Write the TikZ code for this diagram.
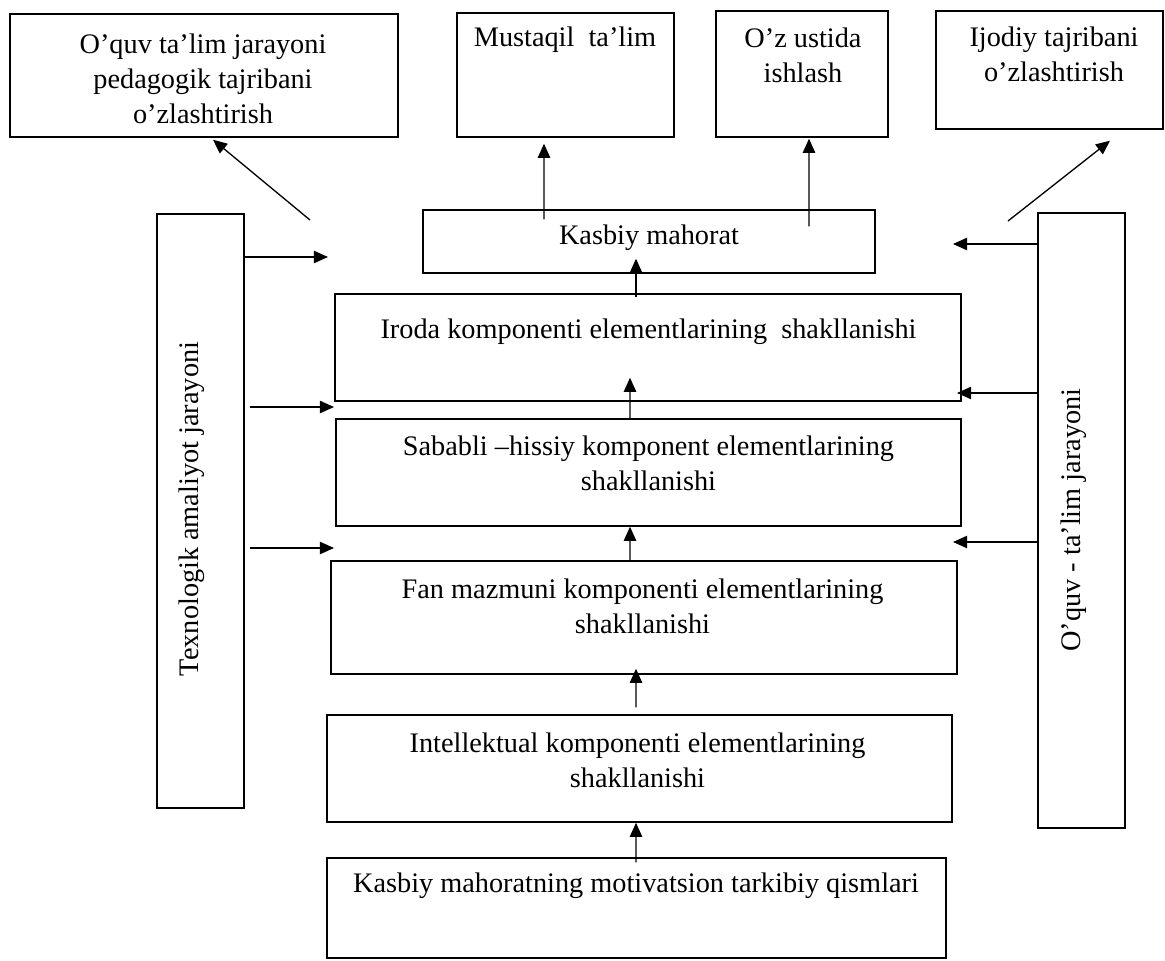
\documentclass[tikz,border=0pt]{standalone}
\usepackage{fontspec}
\setmainfont{Liberation Serif}
\usetikzlibrary{arrows.meta}
\usetikzlibrary{calc}

\begin{document}
\begin{tikzpicture}[
    >={Triangle[length=8pt, width=7pt]},
    line width=0.75pt,
    % Define the style for the nodes
    box/.style={rectangle, draw=black, line width=0.8pt, inner sep=0pt},
    txt/.style={font=\fontsize{16.1}{20}\selectfont, align=center, inner sep=0pt, anchor=base},
    vtxt/.style={txt, rotate=90}
]
    \useasboundingbox (0,0) rectangle (23.3,-19.2);

    % top boxes (text is placed by the baseline of its last line)
    \node[box, minimum width=7.76cm, minimum height=2.46cm] (ped) at (4.08,-1.51) {};
    \node[txt] (ped-t) at (4.06,-2.466) {O’quv ta’lim jarayoni\\pedagogik tajribani\\o’zlashtirish};
    \node[box, minimum width=4.34cm, minimum height=2.48cm] (mus) at (11.31,-1.50) {};
    \node[txt] (mus-t) at (11.30,-0.94) {Mustaqil\ \ ta’lim};
    \node[box, minimum width=3.44cm, minimum height=2.52cm] (oz) at (16.04,-1.48) {};
    \node[txt] (oz-t) at (16.06,-1.643) {O’z ustida\\ishlash};
    \node[box, minimum width=4.54cm, minimum height=2.36cm] (ijod) at (20.99,-1.40) {};
    \node[txt] (ijod-t) at (21.08,-1.623) {Ijodiy tajribani\\o’zlashtirish};

    % middle column
    \node[box, minimum width=9.04cm, minimum height=1.26cm] (kasb) at (12.98,-4.83) {};
    \node[txt] (kasb-t) at (12.98,-4.90) {Kasbiy mahorat};
    \node[box, minimum width=12.52cm, minimum height=2.14cm] (iroda) at (12.96,-6.95) {};
    \node[txt] (iroda-t) at (12.97,-6.76) {Iroda komponenti elementlarining\ \ shakllanishi};
    \node[box, minimum width=12.50cm, minimum height=2.14cm] (sabab) at (12.97,-9.45) {};
    \node[txt] (sabab-t) at (12.97,-9.803) {Sababli –hissiy komponent elementlarining\\shakllanishi};
    \node[box, minimum width=12.52cm, minimum height=2.26cm] (fan) at (12.88,-12.35) {};
    \node[txt] (fan-t) at (12.85,-12.663) {Fan mazmuni komponenti elementlarining\\shakllanishi};
    \node[box, minimum width=12.50cm, minimum height=2.14cm] (intel) at (12.79,-15.37) {};
    \node[txt] (intel-t) at (12.75,-15.743) {Intellektual komponenti elementlarining\\shakllanishi};
    \node[box, minimum width=12.38cm, minimum height=2.00cm] (motiv) at (12.73,-18.16) {};
    \node[txt] (motiv-t) at (12.72,-17.84) {Kasbiy mahoratning motivatsion tarkibiy qismlari};

    % side boxes
    \node[box, minimum width=1.74cm, minimum height=11.88cm] (tex) at (4.01,-10.22) {};
    \node[vtxt] (tex-t) at (3.96,-10.18) {Texnologik amaliyot jarayoni};
    \node[box, minimum width=1.74cm, minimum height=12.30cm] (ota) at (21.63,-10.41) {};
    \node[vtxt] (ota-t) at (21.60,-10.40) {O’quv - ta’lim jarayoni};

    % upward arrows
    \draw[->] ($(motiv.north)+(-0.01,-0.10)$) -- ($(intel.south)+(-0.07,0)$);
    \draw[->] ($(intel.north)+(-0.07,0.14)$) -- ($(fan.south)+(-0.16,0.12)$);
    \draw[->] ($(fan.north)+(-0.28,0)$) -- ($(sabab.south)+(-0.37,0)$);
    \draw[->] ($(sabab.north)+(-0.37,0)$) -- ($(iroda.south)+(-0.36,0.48)$);
    \draw[->] ($(iroda.north)+(-0.24,-0.08)$) -- ($(kasb.south)+(-0.26,0.30)$);
    \draw[->] ($(kasb.north)+(-2.10,-0.20)$) -- ($(mus.south)+(-0.43,-0.12)$);
    \draw[->] ($(kasb.north)+(3.20,-0.34)$) -- ($(oz.south)+(0.14,-0.02)$);

    % diagonal arrows
    \coordinate (pedfrom) at (6.20,-4.40);
    \coordinate (ijodfrom) at (20.16,-4.42);
    \draw[->] (pedfrom) -- ($(ped.south)+(0.18,-0.04)$);
    \draw[->] (ijodfrom) -- ($(ijod.south)+(1.21,-0.22)$);

    % arrows from the side boxes
    \coordinate (tl1) at (6.56,-5.14);
    \coordinate (tl2) at (6.68,-8.14);
    \coordinate (tl3) at (6.68,-10.96);
    \draw[->] (tex.east |- tl1) -- (tl1);
    \foreach \i in {2,3} {
        \draw[->] ($(tex.east |- tl\i)+(0.10,0)$) -- (tl\i);
    }
    \coordinate (tr1) at (19.06,-4.88);
    \coordinate (tr2) at (19.14,-7.86);
    \coordinate (tr3) at (19.06,-10.84);
    \foreach \i in {1,2,3} {
        \draw[->] (ota.west |- tr\i) -- (tr\i);
    }

\end{tikzpicture}
\end{document}
